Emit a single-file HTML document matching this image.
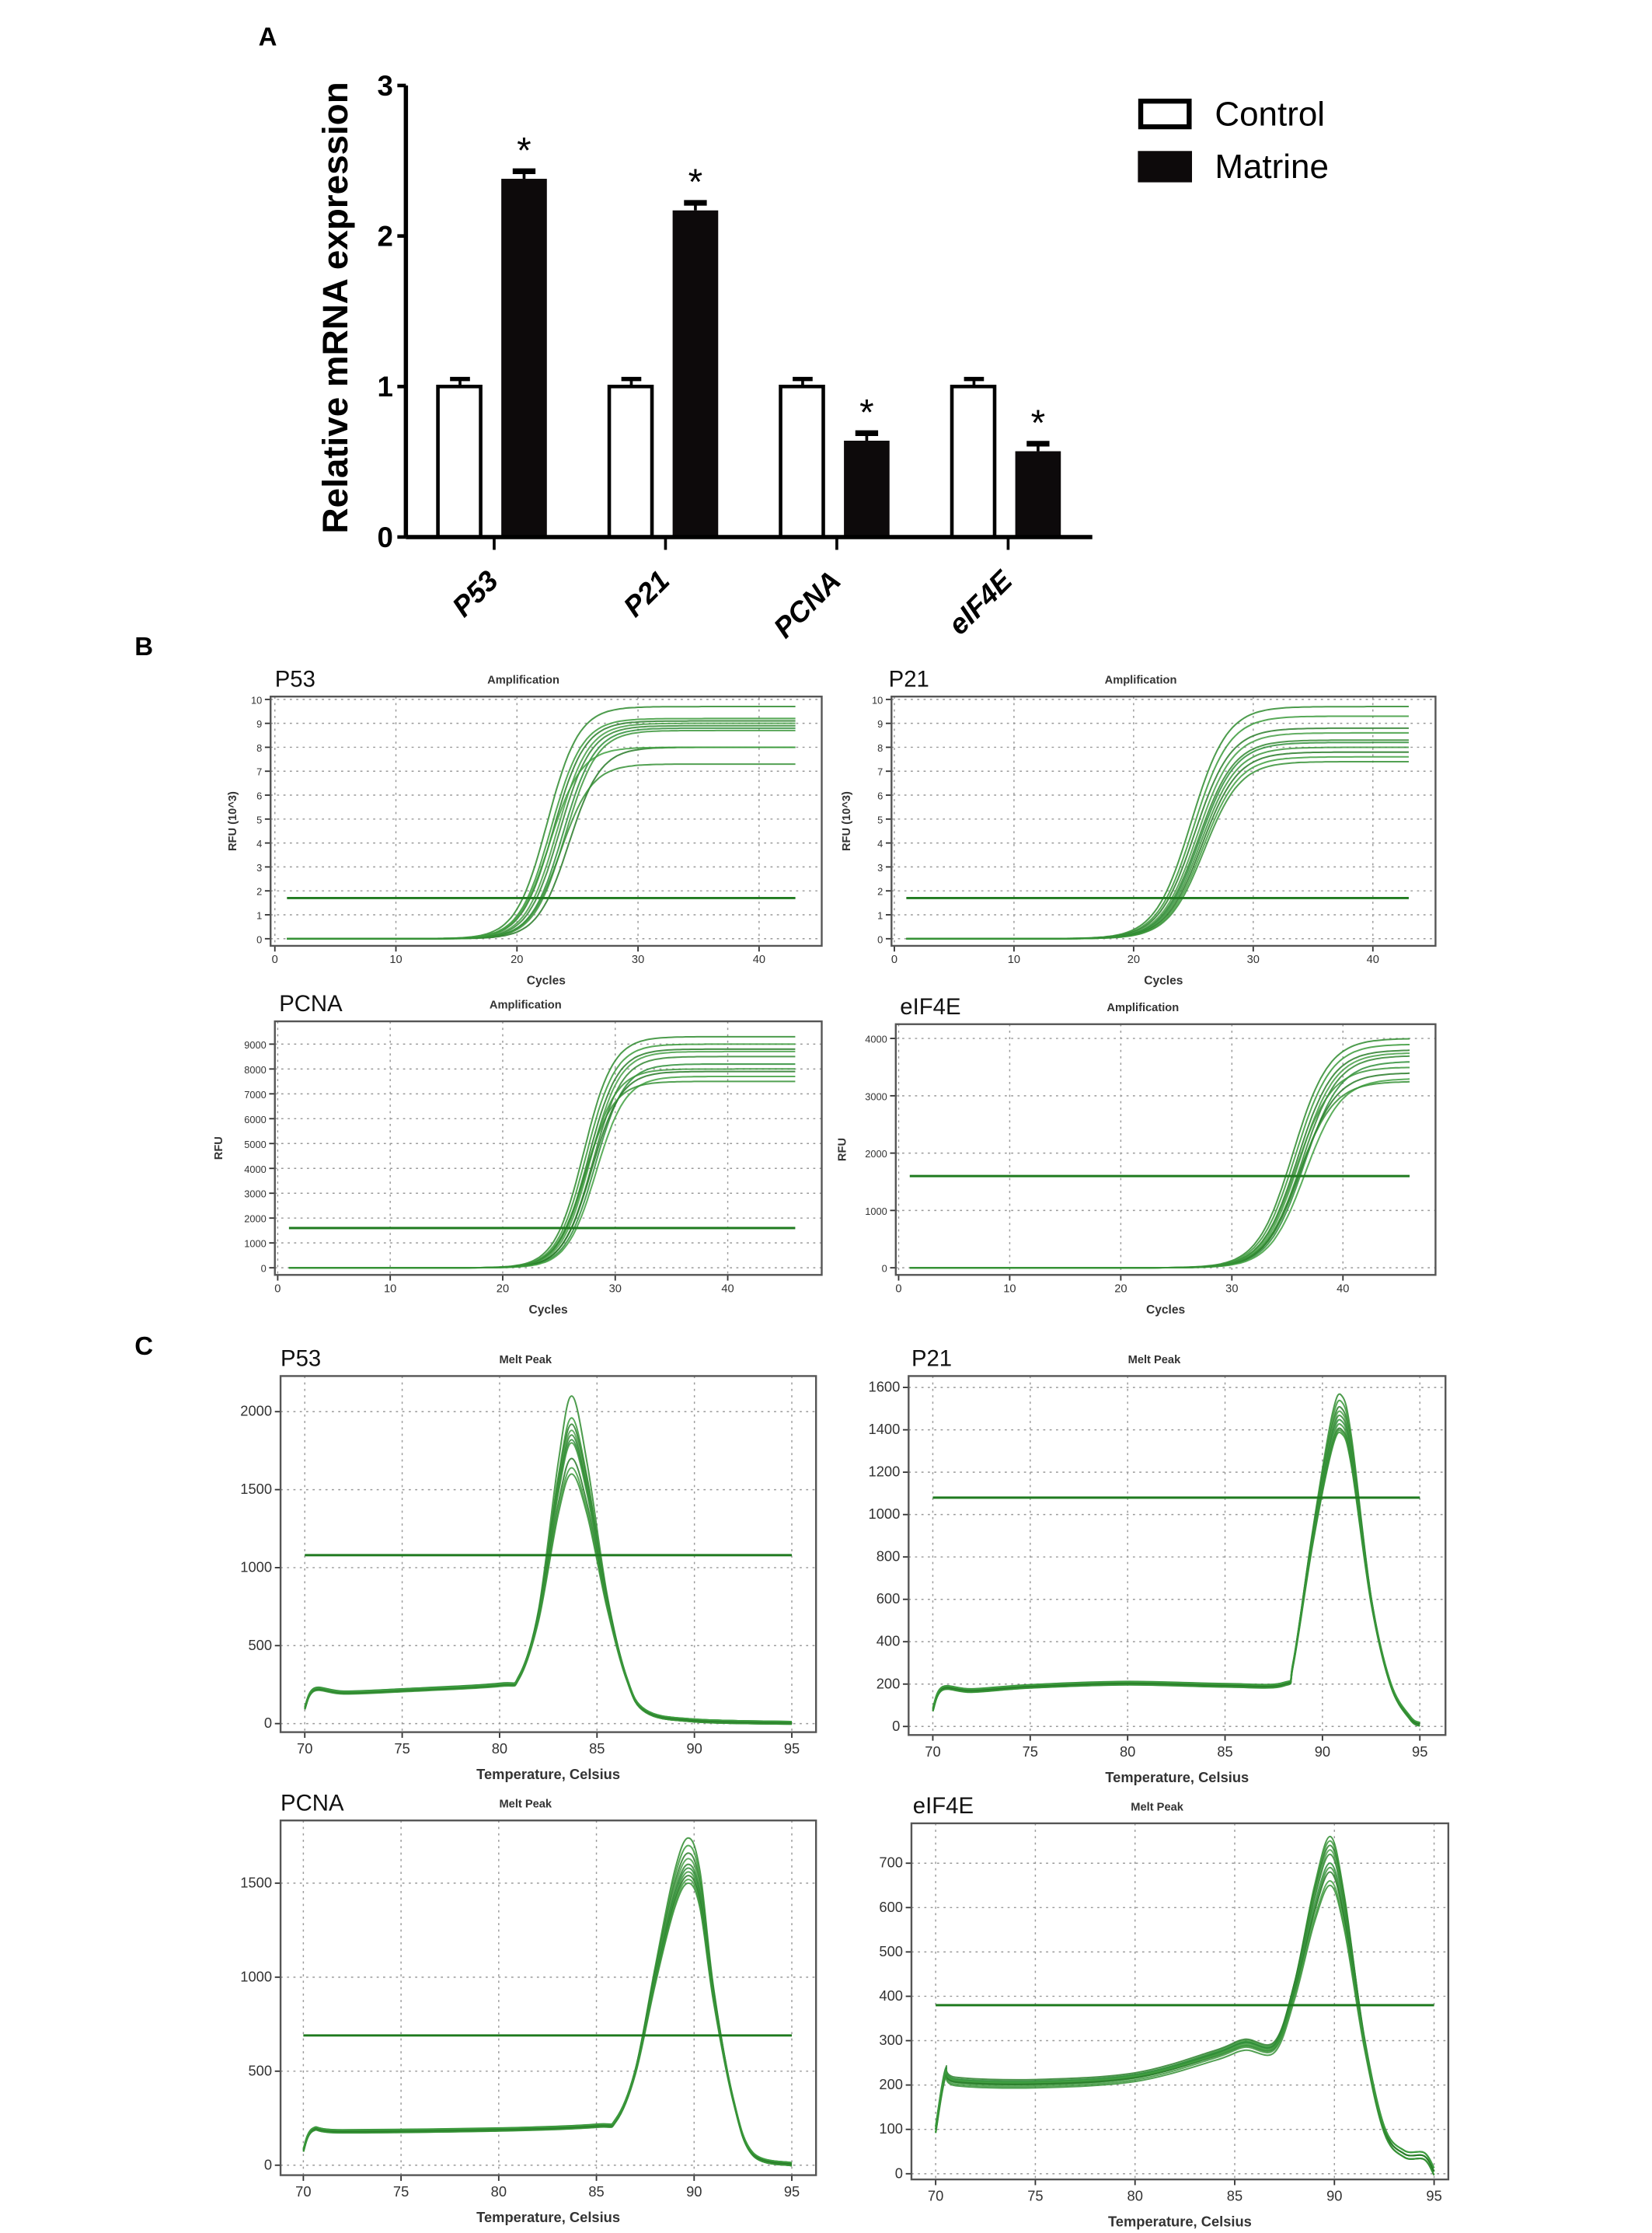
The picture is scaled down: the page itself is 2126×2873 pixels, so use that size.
<!DOCTYPE html>
<html><head><meta charset="utf-8"><style>
html,body{margin:0;padding:0;background:#fff;}
svg{display:block;}
text{font-family:"Liberation Sans",sans-serif;}
</style></head><body>
<svg id="fig" xmlns="http://www.w3.org/2000/svg" width="2126" height="2873" viewBox="0 0 1160 1567.6">
<rect width="1160" height="1567.6" fill="#fff"/>
<text x="188" y="32" font-family="Liberation Serif" font-weight="bold" font-size="18" text-anchor="middle">A</text>
<text x="101" y="460" font-family="Liberation Serif" font-weight="bold" font-size="18" text-anchor="middle">B</text>
<text x="101" y="951" font-family="Liberation Serif" font-weight="bold" font-size="18" text-anchor="middle">C</text>
<g id="barChart"></g>
<g id="amp"></g>
<g id="melt"></g>
</svg>
<script>
// ---------- Panel A data ----------
const genes = ["P53","P21","PCNA","eIF4E"];
const controlVals = [1.0,1.0,1.0,1.0];
const controlErr = [0.05,0.05,0.05,0.05];
const matrineVals = [2.38,2.17,0.64,0.57];
const matrineErr = [0.05,0.05,0.05,0.05];
const barTicks = [0,1,2,3];

// ---------- Panel B data ----------
const ampP53Ct = [22.5,22.8,23.0,23.3,23.5,23.8,24.0,24.3,22.7,23.6];
const ampP53Plat = [9.7,9.2,9.1,9.0,8.9,8.8,8.7,8.0,8.0,7.3];
const ampP21Ct = [24.8,25.0,25.1,25.3,25.4,25.5,25.6,25.7,25.8,25.9];
const ampP21Plat = [9.7,9.3,8.8,8.6,8.3,8.2,8.0,7.8,7.6,7.4];
const ampPCNACt = [27.2,27.4,27.6,27.8,28.0,28.2,27.5,27.9,28.3,27.3];
const ampPCNAPlat = [9300,9000,8800,8700,8500,8200,8000,7900,7700,7500];
const ampEIFCt = [35.5,35.7,35.9,36.1,36.3,36.5,35.8,36.2,36.6,36.0];
const ampEIFPlat = [4000,3900,3800,3750,3700,3600,3500,3400,3300,3250];
const ampThresholds = [1.7,1.7,1600,1600];

// ---------- Panel C data ----------
const meltP53T = [70,70.5,72,75,80,81,82,83,83.7,84.5,85.5,86.5,87.5,90,95];
const meltP53V = [100,220,200,215,250,300,700,1500,1850,1500,800,300,80,20,5];
const meltP53Peaks = [2100,1960,1920,1880,1850,1820,1800,1700,1640,1600];
const meltP21T = [70,70.5,72,75,80,85,88,88.5,89.5,90.5,91,91.5,92.5,93.5,94.5,95];
const meltP21V = [80,180,170,190,205,195,200,300,900,1400,1480,1300,600,200,40,10];
const meltP21Peaks = [1560,1530,1500,1480,1460,1440,1420,1400,1390,1380];
const meltPCNAT = [70,70.5,72,80,85,86,87,88,89,89.7,90.3,91,92,93,95];
const meltPCNAV = [80,190,180,190,210,240,500,1000,1450,1600,1450,900,350,60,5];
const meltPCNAPeaks = [1740,1700,1660,1630,1600,1580,1560,1540,1520,1500];
const meltEIFT = [70,70.5,71,75,80,84,85.5,87,88,89,89.8,90.5,91.5,92.5,93.5,94.5,95];
const meltEIFV = [100,230,210,205,220,270,295,290,420,620,720,600,300,100,45,40,5];
const meltEIFPeaks = [760,750,740,730,720,700,690,680,660,650];
const meltThresholds = [1080,1080,690,380];

const NS="http://www.w3.org/2000/svg";
function mk(tag,attrs,parent){const e=document.createElementNS(NS,tag);for(const k in attrs)e.setAttribute(k,attrs[k]);parent.appendChild(e);return e;}
function txt(s,attrs,parent){const e=mk("text",attrs,parent);e.textContent=s;return e;}
function smoothPath(p){
  let d="M"+p[0][0].toFixed(1)+","+p[0][1].toFixed(1);
  for(let i=0;i<p.length-1;i++){
    const p0=p[Math.max(0,i-1)],p1=p[i],p2=p[i+1],p3=p[Math.min(p.length-1,i+2)];
    const c1x=p1[0]+(p2[0]-p0[0])/6,c1y=p1[1]+(p2[1]-p0[1])/6;
    const c2x=p2[0]-(p3[0]-p1[0])/6,c2y=p2[1]-(p3[1]-p1[1])/6;
    d+=` C${c1x.toFixed(1)},${c1y.toFixed(1)} ${c2x.toFixed(1)},${c2y.toFixed(1)} ${p2[0].toFixed(1)},${p2[1].toFixed(1)}`;
  }
  return d;
}

// ---------- Panel A ----------
(function(){
  const g=document.getElementById("barChart");
  const x0=285,x1=767,yTop=60,yBot=377;
  const yS=v=>yBot-(v/3)*(yBot-yTop);
  const groupW=120.3, first=347;
  const gx=i=>first+i*groupW;
  barTicks.forEach(t=>{
    const l=mk("line",{x1:x0-6,x2:x0,y1:yS(t),y2:yS(t),stroke:"#000","stroke-width":2.5},g);
    
    
    const tl=txt(String(t),{x:x0-9,y:yS(t)+7,"font-size":20,"font-weight":"bold","text-anchor":"end"},g);
    
    
  });
  genes.forEach((gn,i)=>{
    const cx=gx(i);
    const cv=controlVals[i], mv=matrineVals[i];
    const ce=mk("line",{x1:cx-24,x2:cx-24,y1:yS(cv),y2:yS(cv+controlErr[i]),stroke:"#000","stroke-width":2},g);
    
    
    const cc=mk("line",{x1:cx-31,x2:cx-17,y1:yS(cv+controlErr[i]),y2:yS(cv+controlErr[i]),stroke:"#000","stroke-width":3},g);
    
    
    const cb=mk("rect",{x:cx-39.5,y:yS(cv),width:30,height:yBot-yS(cv),fill:"#fff",stroke:"#000","stroke-width":2.5},g);
    
    
    const me=mk("line",{x1:cx+21,x2:cx+21,y1:yS(mv),y2:yS(mv+matrineErr[i]),stroke:"#000","stroke-width":2},g);
    
    
    const mc=mk("line",{x1:cx+13,x2:cx+29,y1:yS(mv+matrineErr[i]),y2:yS(mv+matrineErr[i]),stroke:"#000","stroke-width":4},g);
    
    
    const mb=mk("rect",{x:cx+5,y:yS(mv),width:32,height:yBot-yS(mv),fill:"#0d0a0b"},g);
    
    
    const st=txt("*",{x:cx+21,y:yS(mv+matrineErr[i])-6,"font-size":26,"text-anchor":"middle"},g);
    
    
    const tk=mk("line",{x1:cx,x2:cx,y1:yBot,y2:yBot+9,stroke:"#000","stroke-width":2},g);
    
    
    const xl=txt(gn,{x:0,y:0,"font-size":20,"font-weight":"bold","font-style":"italic","text-anchor":"end",transform:`translate(${cx+4},${yBot+32}) rotate(-45)`},g);
    
    
  });
  const ya=mk("line",{x1:x0,x2:x0,y1:yTop,y2:yBot,stroke:"#000","stroke-width":3},g);
  
  
  const xa=mk("line",{x1:x0,x2:x1,y1:yBot,y2:yBot,stroke:"#000","stroke-width":3},g);
  
  
  const yt=txt("Relative mRNA expression",{x:0,y:0,"font-size":25,"font-weight":"bold","text-anchor":"middle",transform:`translate(244,216) rotate(-90)`},g);
  
  
  const l1=mk("rect",{x:801,y:71,width:34,height:18,fill:"#fff",stroke:"#000","stroke-width":3.5},g);
  
  
  const t1=txt("Control",{x:853,y:88,"font-size":24},g);
  
  
  const l2=mk("rect",{x:799,y:106,width:38,height:22,fill:"#0d0a0b"},g);
  
  
  const t2=txt("Matrine",{x:853,y:125,"font-size":24},g);
  
  
})();

// ---------- generic plot frame ----------
function frame(parent,o){
  const g=mk("g",{},parent);
  
  
  const xS=v=>o.px0+(v-o.xv0)/(o.xv1-o.xv0)*(o.px1-o.px0);
  const yS=v=>o.py0-(v-o.yv0)/(o.yv1-o.yv0)*(o.py0-o.py1);
  o.xTicks.forEach(t=>{
    const gl=mk("line",{x1:xS(t),x2:xS(t),y1:o.top,y2:o.bot,stroke:"#999","stroke-width":0.8,"stroke-dasharray":"1.5,3"},g);
    
    
    const tk=mk("line",{x1:xS(t),x2:xS(t),y1:o.bot,y2:o.bot+4,stroke:"#333","stroke-width":1},g);
    
    
    const tl=txt(String(t),{x:xS(t),y:o.bot+(o.big?15:12),"font-size":o.big?10:8,"text-anchor":"middle",fill:"#333"},g);
    
    
  });
  o.yTicks.forEach(t=>{
    const gl=mk("line",{x1:o.left,x2:o.right,y1:yS(t),y2:yS(t),stroke:"#999","stroke-width":0.8,"stroke-dasharray":"1.5,3"},g);
    
    
    const tk=mk("line",{x1:o.left-4,x2:o.left,y1:yS(t),y2:yS(t),stroke:"#333","stroke-width":1},g);
    
    
    const tl=txt(String(t),{x:o.left-6,y:yS(t)+3,"font-size":o.big?10:7,"text-anchor":"end",fill:"#333"},g);
    
    
  });
  const b=mk("rect",{x:o.left,y:o.top,width:o.right-o.left,height:o.bot-o.top,fill:"none",stroke:"#555","stroke-width":1.3},g);
  
  
  const ti=txt(o.gene,{x:o.titleX,y:o.top-7,"font-size":16,fill:"#111"},g);
  
  
  const st=txt(o.sub,{x:(o.left+o.right)/2-16,y:o.top-9,"font-size":8,"font-weight":"bold","text-anchor":"middle",fill:"#333"},g);
  
  
  const xt=txt(o.xTitle,{x:(o.left+o.right)/2,y:o.bot+(o.big?33:27),"font-size":o.big?10:8.5,"font-weight":"bold","text-anchor":"middle",fill:"#333"},g);
  
  
  const yt=txt(o.yTitle,{x:0,y:0,"font-size":8,"font-weight":"bold","text-anchor":"middle",fill:"#333",transform:`translate(${o.yTitleX},${(o.top+o.bot)/2}) rotate(-90)`},g);
  
  
  return {g,xS,yS};
}
const greens=["#2e8b2e","#3a9a3a","#2a7f2a","#46a046","#338833","#2f8f3a","#3c963c","#277a27","#40a040","#359035"];

// ---------- Panel B ----------
(function(){
  const P=document.getElementById("amp");
  const defs=[
    {name:"amp-plot-p53",gene:"P53",sub:"Amplification",left:190,right:577,top:489,bot:664,px0:193,px1:533,xv0:0,xv1:40,py0:659,py1:491,yv0:0,yv1:10,xTicks:[0,10,20,30,40],yTicks:[0,1,2,3,4,5,6,7,8,9,10],yTitle:"RFU (10^3)",yTitleX:166,titleX:193,ct:ampP53Ct,plat:ampP53Plat,k:1.3,xEnd:43,thr:ampThresholds[0]},
    {name:"amp-plot-p21",gene:"P21",sub:"Amplification",left:626,right:1008,top:489,bot:664,px0:628,px1:964,xv0:0,xv1:40,py0:659,py1:491,yv0:0,yv1:10,xTicks:[0,10,20,30,40],yTicks:[0,1,2,3,4,5,6,7,8,9,10],yTitle:"RFU (10^3)",yTitleX:597,titleX:624,ct:ampP21Ct,plat:ampP21Plat,k:1.5,xEnd:43,thr:ampThresholds[1]},
    {name:"amp-plot-pcna",gene:"PCNA",sub:"Amplification",left:193,right:577,top:717,bot:895,px0:195,px1:511,xv0:0,xv1:40,py0:890,py1:733,yv0:0,yv1:9000,xTicks:[0,10,20,30,40],yTicks:[0,1000,2000,3000,4000,5000,6000,7000,8000,9000],yTitle:"RFU",yTitleX:156,titleX:196,ct:ampPCNACt,plat:ampPCNAPlat,k:1.3,xEnd:46,thr:ampThresholds[2]},
    {name:"amp-plot-eif4e",gene:"eIF4E",sub:"Amplification",left:629,right:1008,top:719,bot:895,px0:631,px1:943,xv0:0,xv1:40,py0:890,py1:729,yv0:0,yv1:4000,xTicks:[0,10,20,30,40],yTicks:[0,1000,2000,3000,4000],yTitle:"RFU",yTitleX:594,titleX:632,ct:ampEIFCt,plat:ampEIFPlat,k:1.6,xEnd:46,thr:ampThresholds[3]}
  ];
  defs.forEach(d=>{
    d.xTitle="Cycles";
    const f=frame(P,d);
    d.ct.forEach((c,i)=>{
      let pts=[];
      for(let x=1;x<=d.xEnd;x+=0.25){
        const v=d.plat[i]/(1+Math.exp(-(x-c)/d.k));
        pts.push(f.xS(x).toFixed(1)+","+f.yS(v).toFixed(1));
      }
      const pl=mk("polyline",{points:pts.join(" "),fill:"none",stroke:greens[i%greens.length],"stroke-width":1.1,"stroke-opacity":0.85},f.g);
      
      
    });
    const th=mk("line",{x1:f.xS(1),x2:f.xS(d.xEnd),y1:f.yS(d.thr),y2:f.yS(d.thr),stroke:"#1f7a1f","stroke-width":1.6},f.g);
    
    
  });
})();

// ---------- Panel C ----------
(function(){
  const P=document.getElementById("melt");
  const defs=[
    {name:"melt-plot-p53",gene:"P53",left:197,right:573,top:966,bot:1216,px0:214,px1:556,py0:1210,py1:991,yv0:0,yv1:2000,yTicks:[0,500,1000,1500,2000],yTitleX:150,titleX:197,T:meltP53T,V:meltP53V,peaks:meltP53Peaks,thr:meltThresholds[0]},
    {name:"melt-plot-p21",gene:"P21",left:638,right:1015,top:966,bot:1218,px0:655,px1:997,py0:1212,py1:974,yv0:0,yv1:1600,yTicks:[0,200,400,600,800,1000,1200,1400,1600],yTitleX:596,titleX:640,T:meltP21T,V:meltP21V,peaks:meltP21Peaks,thr:meltThresholds[1]},
    {name:"melt-plot-pcna",gene:"PCNA",left:197,right:573,top:1278,bot:1527,px0:213,px1:556,py0:1520,py1:1322,yv0:0,yv1:1500,yTicks:[0,500,1000,1500],yTitleX:150,titleX:197,T:meltPCNAT,V:meltPCNAV,peaks:meltPCNAPeaks,thr:meltThresholds[2]},
    {name:"melt-plot-eif4e",gene:"eIF4E",left:640,right:1017,top:1280,bot:1530,px0:657,px1:1007,py0:1526,py1:1308,yv0:0,yv1:700,yTicks:[0,100,200,300,400,500,600,700],yTitleX:600,titleX:641,T:meltEIFT,V:meltEIFV,peaks:meltEIFPeaks,thr:meltThresholds[3]}
  ];
  defs.forEach(d=>{
    d.sub="Melt Peak";d.xTitle="Temperature, Celsius";d.xv0=70;d.xv1=95;d.xTicks=[70,75,80,85,90,95];d.big=true;
    const f=frame(P,d);
    const maxV=Math.max(...d.V);
    d.peaks.forEach((pk,i)=>{
      const sc=pk/maxV;
      const pts=d.T.map((t,j)=>{
        const frac=d.V[j]/maxV;
        const v=d.V[j]*(1+(sc-1)*frac)+(i%3-1)*8*(1-frac);
        return [f.xS(t),f.yS(v)];
      });
      const pl=mk("path",{d:smoothPath(pts),fill:"none",stroke:greens[i%greens.length],"stroke-width":1.1,"stroke-opacity":0.85,"stroke-linejoin":"round"},f.g);
      
      
    });
    const th=mk("line",{x1:f.xS(70),x2:f.xS(95),y1:f.yS(d.thr),y2:f.yS(d.thr),stroke:"#1f7a1f","stroke-width":1.6},f.g);
    
    
  });
})();
</script>
</body></html>
